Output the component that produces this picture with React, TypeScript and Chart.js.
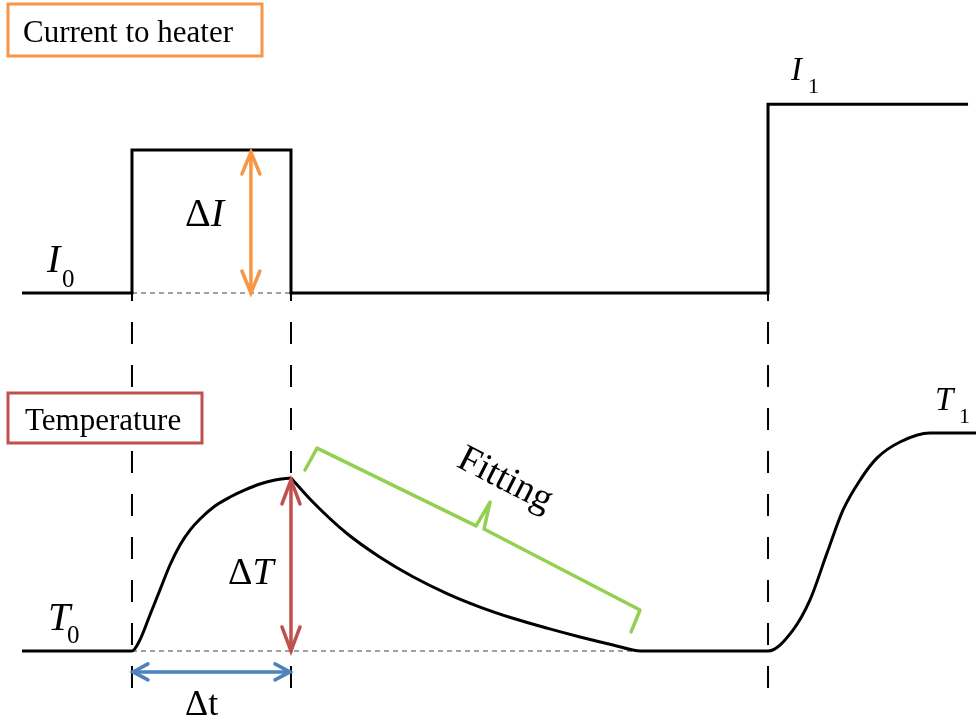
import { useEffect, useRef } from "react";
import { Chart, registerables } from "chart.js";

Chart.register(...registerables);

// Heater current: switching times and current levels (units of ΔI)
const currentTimes = [0.308, 1, 2, 5, 6.258];
const currentLevels = [0, 1, 0, 1.32, 1.32];

// Temperature while the pulse heats the sample (units of ΔT)
const heatTimes = [0.308, 1.0, 1.05, 1.113, 1.176, 1.239, 1.302, 1.365, 1.428, 1.522, 1.617, 1.711, 1.805, 1.9, 2.0];
const heatTemps = [0, 0, 0.064, 0.208, 0.353, 0.497, 0.613, 0.699, 0.763, 0.838, 0.89, 0.931, 0.965, 0.988, 1.0];

// Temperature after the pulse: cooling, rest at T0, then rise to T1
const coolTimes = [
  2.0, 2.139, 2.352, 2.56, 2.767, 2.981, 3.189, 3.396, 3.61, 3.818, 4.025, 4.2,
  5.0, 5.157, 5.264, 5.371, 5.472, 5.579, 5.686, 5.83, 6.019, 6.308,
];
const coolTemps = [
  1.0, 0.86, 0.679, 0.542, 0.429, 0.332, 0.254, 0.189, 0.132, 0.081, 0.035, 0,
  0, 0.121, 0.295, 0.566, 0.815, 0.988, 1.116, 1.208, 1.26, 1.26,
];

// Bracket over the cooling interval used for the fit
const fitTimes = [2.088, 2.164, 3.164, 3.252, 3.214, 4.195, 4.139];
const fitTemps = [1.046, 1.173, 0.723, 0.861, 0.705, 0.237, 0.11];

const PULSE_ON = currentTimes[1];
const PULSE_OFF = currentTimes[2];
const STEP_ON = currentTimes[3];
const I0 = currentLevels[0];
const DELTA_I = currentLevels[1];
const T0 = heatTemps[0];
const DELTA_T = heatTemps[heatTemps.length - 1];
const FIT_END = coolTimes[11];

const ORANGE = "#F79646";
const RED = "#C0504D";
const BLUE = "#4F81BD";
const GREEN = "#92D050";
const SERIF = '"Liberation Serif", "Times New Roman", serif';

const pts = (xs: number[], ys: number[]) => xs.map((x, i) => ({ x, y: ys[i] }));

function chevron(ctx: CanvasRenderingContext2D, tx: number, ty: number, ux: number, uy: number, len: number, half: number) {
  const bx = tx + ux * len;
  const by = ty + uy * len;
  const px = -uy;
  const py = ux;
  ctx.beginPath();
  ctx.moveTo(bx + px * half, by + py * half);
  ctx.lineTo(tx, ty);
  ctx.lineTo(bx - px * half, by - py * half);
  ctx.stroke();
}

function doubleArrow(
  ctx: CanvasRenderingContext2D,
  x1: number, y1: number, x2: number, y2: number,
  color: string, len: number, half: number
) {
  const d = Math.hypot(x2 - x1, y2 - y1);
  const ux = (x2 - x1) / d;
  const uy = (y2 - y1) / d;
  ctx.save();
  ctx.strokeStyle = color;
  ctx.lineWidth = 3.5;
  ctx.lineCap = "round";
  ctx.lineJoin = "miter";
  ctx.setLineDash([]);
  ctx.beginPath();
  ctx.moveTo(x1, y1);
  ctx.lineTo(x2, y2);
  ctx.stroke();
  chevron(ctx, x1, y1, ux, uy, len, half);
  chevron(ctx, x2, y2, -ux, -uy, len, half);
  ctx.restore();
}

function symbol(
  ctx: CanvasRenderingContext2D,
  px: number, py: number,
  prefix: string, main: string, sub: string,
  size: number, subSize: number, subDx: number, subDy: number
) {
  ctx.save();
  ctx.fillStyle = "#000";
  ctx.textAlign = "left";
  ctx.textBaseline = "alphabetic";
  let x = px;
  if (prefix) {
    ctx.font = `${size}px ${SERIF}`;
    ctx.fillText(prefix, x, py);
    x += ctx.measureText(prefix).width;
  }
  ctx.font = `italic ${size}px ${SERIF}`;
  ctx.fillText(main, x, py);
  if (sub) {
    ctx.font = `${subSize}px ${SERIF}`;
    ctx.fillText(sub, x + subDx, py + subDy);
  }
  ctx.restore();
}

function boxedTitle(ctx: CanvasRenderingContext2D, text: string, color: string, left: number, top: number, w: number, h: number, tx: number, ty: number) {
  ctx.save();
  ctx.setLineDash([]);
  ctx.fillStyle = "#fff";
  ctx.fillRect(left, top, w, h);
  ctx.strokeStyle = color;
  ctx.lineWidth = 3;
  ctx.strokeRect(left, top, w, h);
  ctx.fillStyle = "#000";
  ctx.font = `31px ${SERIF}`;
  ctx.textBaseline = "alphabetic";
  ctx.fillText(text, left + tx, top + ty);
  ctx.restore();
}

const overlay = {
  id: "overlay",
  beforeDatasetsDraw(chart: any) {
    const { ctx, scales } = chart;
    const x = scales.x;
    const yI = scales.yI;
    const yT = scales.yT;
    ctx.save();
    // switching-time guides running through both panels
    ctx.strokeStyle = "#000";
    ctx.lineWidth = 2;
    ctx.setLineDash([22, 21]);
    ctx.lineDashOffset = 14;
    for (const t of [PULSE_ON, PULSE_OFF, STEP_ON]) {
      const px = x.getPixelForValue(t);
      ctx.beginPath();
      ctx.moveTo(px, yI.getPixelForValue(I0));
      ctx.lineTo(px, yT.getPixelForValue(-0.225));
      ctx.stroke();
    }
    // reference baselines I0 and T0
    ctx.strokeStyle = "#444";
    ctx.lineWidth = 1.2;
    ctx.setLineDash([5, 4]);
    ctx.lineDashOffset = 0;
    ctx.beginPath();
    ctx.moveTo(x.getPixelForValue(PULSE_ON), yI.getPixelForValue(I0));
    ctx.lineTo(x.getPixelForValue(PULSE_OFF), yI.getPixelForValue(I0));
    ctx.moveTo(x.getPixelForValue(PULSE_ON), yT.getPixelForValue(T0));
    ctx.lineTo(x.getPixelForValue(FIT_END), yT.getPixelForValue(T0));
    ctx.stroke();
    ctx.restore();
  },
  afterDatasetsDraw(chart: any) {
    const { ctx, scales } = chart;
    const x = scales.x;
    const yI = scales.yI;
    const yT = scales.yT;

    // ΔI, ΔT and Δt arrows
    const xi = x.getPixelForValue(1.748);
    doubleArrow(ctx, xi, yI.getPixelForValue(DELTA_I) + 2, xi, yI.getPixelForValue(I0), ORANGE, 22, 9);
    const xt = x.getPixelForValue(PULSE_OFF);
    doubleArrow(ctx, xt, yT.getPixelForValue(DELTA_T) + 2, xt, yT.getPixelForValue(T0), RED, 24, 9);
    const yd = yT.getPixelForValue(-0.121);
    doubleArrow(ctx, x.getPixelForValue(PULSE_ON) + 1, yd, x.getPixelForValue(PULSE_OFF) - 1, yd, BLUE, 15, 8);

    // symbols
    symbol(ctx, x.getPixelForValue(0.465), yI.getPixelForValue(0.147), "", "I", "0", 40, 25, 15, 15);
    symbol(ctx, x.getPixelForValue(1.334), yI.getPixelForValue(0.469), "Δ", "I", "", 40, 25, 0, 0);
    symbol(ctx, x.getPixelForValue(5.145), yI.getPixelForValue(1.49), "", "I", "1", 33, 22, 17, 13);
    symbol(ctx, x.getPixelForValue(0.472), yT.getPixelForValue(0.121), "", "T", "0", 40, 25, 19, 13);
    symbol(ctx, x.getPixelForValue(1.604), yT.getPixelForValue(0.387), "Δ", "T", "", 38, 25, 0, 0);
    symbol(ctx, x.getPixelForValue(6.05), yT.getPixelForValue(1.393), "", "T", "1", 33, 22, 24, 13);

    ctx.save();
    ctx.fillStyle = "#000";
    ctx.font = `36px ${SERIF}`;
    ctx.textBaseline = "alphabetic";
    ctx.fillText("Δt", x.getPixelForValue(1.334), yT.getPixelForValue(-0.37));
    ctx.restore();

    // "Fitting" along the bracket
    ctx.save();
    ctx.translate(x.getPixelForValue(3.346), yT.getPixelForValue(0.988));
    ctx.rotate((27 * Math.PI) / 180);
    ctx.fillStyle = "#000";
    ctx.font = `38px ${SERIF}`;
    ctx.textAlign = "center";
    ctx.textBaseline = "middle";
    ctx.fillText("Fitting", 0, 0);
    ctx.restore();

    // panel titles
    boxedTitle(ctx, "Current to heater", ORANGE, 8, 4, 254, 52, 15, 38);
    boxedTitle(ctx, "Temperature", RED, 8, 393, 194, 50, 17, 37);
  },
};

export default function App() {
  const canvasRef = useRef<HTMLCanvasElement | null>(null);

  useEffect(() => {
    const canvas = canvasRef.current;
    if (!canvas) return;
    const chart = new Chart(canvas, {
      type: "line",
      data: {
        datasets: [
          {
            data: pts(currentTimes, currentLevels),
            xAxisID: "x",
            yAxisID: "yI",
            stepped: "before",
            borderColor: "#000",
            borderWidth: 3,
            borderJoinStyle: "miter",
            borderCapStyle: "butt",
            pointRadius: 0,
            fill: false,
          },
          {
            data: pts(heatTimes, heatTemps),
            xAxisID: "x",
            yAxisID: "yT",
            cubicInterpolationMode: "monotone",
            borderColor: "#000",
            borderWidth: 3,
            borderCapStyle: "butt",
            pointRadius: 0,
            fill: false,
          },
          {
            data: pts(coolTimes, coolTemps),
            xAxisID: "x",
            yAxisID: "yT",
            cubicInterpolationMode: "monotone",
            borderColor: "#000",
            borderWidth: 3,
            borderCapStyle: "butt",
            pointRadius: 0,
            fill: false,
          },
          {
            data: pts(fitTimes, fitTemps),
            xAxisID: "x",
            yAxisID: "yT",
            tension: 0,
            borderColor: GREEN,
            borderWidth: 3.5,
            borderJoinStyle: "round",
            borderCapStyle: "round",
            pointRadius: 0,
            fill: false,
          },
        ],
      } as any,
      options: {
        animation: false,
        responsive: false,
        maintainAspectRatio: false,
        devicePixelRatio: 1,
        events: [],
        layout: { padding: 0 },
        plugins: {
          legend: { display: false },
          tooltip: { enabled: false },
        },
        scales: {
          x: { type: "linear", min: 0.17, max: 6.308, display: false },
          yI: { type: "linear", min: -2.986, max: 2.049, display: false },
          yT: { type: "linear", min: -0.399, max: 3.763, display: false },
        },
      },
      plugins: [overlay],
    });
    return () => chart.destroy();
  }, []);

  return (
    <div style={{ position: "absolute", left: 0, top: 0, width: 976, height: 720, background: "#fff" }}>
      <canvas ref={canvasRef} width={976} height={720} />
    </div>
  );
}
